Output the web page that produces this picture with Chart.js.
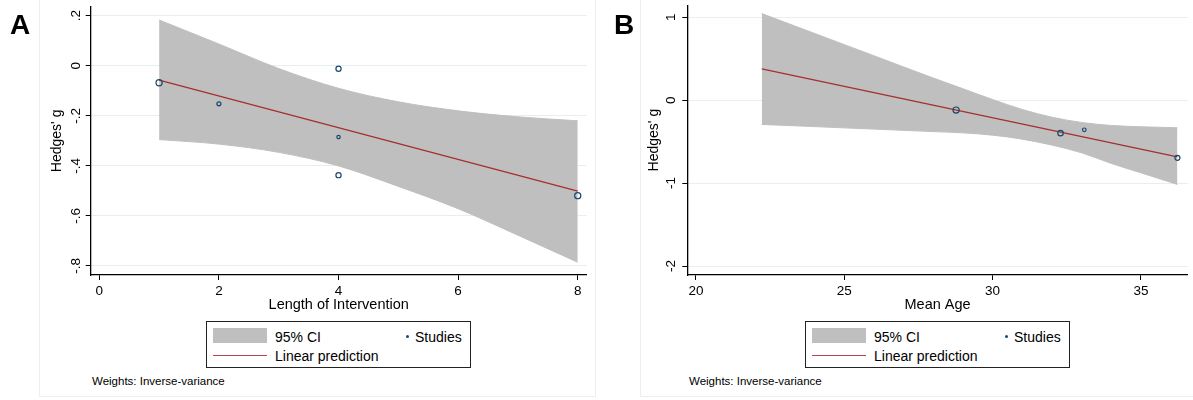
<!DOCTYPE html>
<html>
<head>
<meta charset="utf-8">
<script src="https://cdn.jsdelivr.net/npm/chart.js@4.4.1/dist/chart.umd.min.js"></script>
<style>
	body { margin: 0; background: #fff; font-family: "Liberation Sans", Arial, sans-serif; color: #000; }
	#wrap { position: relative; width: 1193px; height: 400px; overflow: hidden; background: #fff; }
	.panel { position: absolute; top: -2px; height: 399px; border: 1px solid #eceff0; box-sizing: border-box; }
	canvas { position: absolute; top: 0; }
	.tag { position: absolute; font-weight: bold; font-size: 28px; line-height: 28px; }
	.legend { position: absolute; top: 321px; width: 265px; height: 47px; border: 1.3px solid #222; box-sizing: border-box; }
	.legend span { position: absolute; font-size: 14px; line-height: 16px; white-space: nowrap; }
	.legend .swatch { position: absolute; left: 6px; top: 6px; width: 54px; height: 15px; background: #bfbfbf; }
	.legend .redline { position: absolute; left: 6px; top: 32.5px; width: 54px; height: 1.2px; background: #b04a4a; }
	.legend .dot { position: absolute; left: 198.5px; top: 12.5px; width: 3px; height: 3px; border-radius: 50%; background: #1a476f; }
	.note { position: absolute; top: 374px; font-size: 11.5px; line-height: 14px; white-space: nowrap; }
</style>
</head>
<body>
<div id="wrap">
	<div class="panel" style="left:39px; width:557px;"></div>
	<div class="panel" style="left:640px; width:600px;"></div>

	<canvas id="chartA" width="596" height="320" style="left:0px;"></canvas>
	<canvas id="chartB" width="596" height="320" style="left:597px;"></canvas>

	<div class="tag" style="left:10px; top:11px;">A</div>
	<div class="tag" style="left:614px; top:11px;">B</div>

	<div class="legend" style="left:206px;">
		<div class="swatch"></div>
		<span style="left:68px; top:6.5px;">95% CI</span>
		<div class="dot"></div>
		<span style="left:208px; top:6.5px;">Studies</span>
		<div class="redline"></div>
		<span style="left:68px; top:25.5px;">Linear prediction</span>
	</div>
	<div class="legend" style="left:805px;">
		<div class="swatch"></div>
		<span style="left:68px; top:6.5px;">95% CI</span>
		<div class="dot"></div>
		<span style="left:208px; top:6.5px;">Studies</span>
		<div class="redline"></div>
		<span style="left:68px; top:25.5px;">Linear prediction</span>
	</div>

	<div class="note" style="left:92px;">Weights: Inverse-variance</div>
	<div class="note" style="left:689px;">Weights: Inverse-variance</div>
</div>

<script>
	'use strict';

	// panel A - Hedges' g against length of intervention
	var lengthA = [1, 2, 4, 4, 4, 8];
	var hedgesA = [-0.068, -0.152, -0.012, -0.285, -0.437, -0.519];
	var weightsA = [9.6, 4.0, 6.8, 2.9, 6.8, 9.6];
	var fitXA = [1, 8];
	var fitYA = [-0.057, -0.501];
	var ciXA = [1, 2, 3, 4, 5, 6, 7, 8];
	var ciHiA = [0.183, 0.087, -0.011, -0.090, -0.144, -0.180, -0.204, -0.220];
	var ciLoA = [-0.295, -0.313, -0.346, -0.400, -0.482, -0.571, -0.677, -0.785];
	var xTicksA = [0, 2, 4, 6, 8];
	var yTicksA = [-0.8, -0.6, -0.4, -0.2, 0, 0.2];
	var yLabelsA = ['-.8', '-.6', '-.4', '-.2', '0', '.2'];

	// panel B - Hedges' g against mean age
	var ageB = [28.77, 32.29, 33.09, 36.23];
	var hedgesB = [-0.120, -0.398, -0.357, -0.695];
	var weightsB = [9.6, 7.3, 3.2, 6.3];
	var fitXB = [22.22, 36.23];
	var fitYB = [0.377, -0.683];
	var ciXB = [22.22, 24, 26, 28, 29, 30, 31, 32, 33, 34, 35, 36.23];
	var ciHiB = [1.044, 0.805, 0.536, 0.267, 0.138, 0.008, -0.112, -0.205, -0.269, -0.305, -0.321, -0.333];
	var ciLoB = [-0.293, -0.319, -0.349, -0.379, -0.394, -0.422, -0.470, -0.542, -0.635, -0.763, -0.876, -1.016];
	var xTicksB = [20, 25, 30, 35];
	var yTicksB = [-2, -1, 0, 1];
	var yLabelsB = ['-2', '-1', '0', '1'];

	var NAVY = '#1a476f', MAROON = '#a52f2f', GRAY = '#bfbfbf', GRID = '#e7eef0';

	Chart.defaults.font.family = '"Liberation Sans", Arial, sans-serif';
	Chart.defaults.color = '#000';

	function pts(xs, ys) {
		return xs.map(function(x, i){ return { x: x, y: ys[i] }; });
	}

	function makePanel(id, p) {
		return new Chart(document.getElementById(id), {
			type: 'line',
			data: {
				datasets: [{
					label: 'Studies',
					data: pts(p.x, p.y),
					showLine: false,
					pointRadius: p.w.map(Math.sqrt),
					pointBorderWidth: 1.2,
					pointBorderColor: NAVY,
					pointBackgroundColor: 'rgba(0,0,0,0)'
				}, {
					label: 'Linear prediction',
					data: pts(p.fitX, p.fitY),
					borderColor: MAROON,
					borderWidth: 1.3,
					pointRadius: 0,
					fill: false
				}, {
					label: '95% CI',
					data: pts(p.ciX, p.ciHi),
					borderColor: GRAY,
					backgroundColor: GRAY,
					borderWidth: 1,
					pointRadius: 0,
					cubicInterpolationMode: 'monotone',
					fill: '+1'
				}, {
					label: '95% CI (lower)',
					data: pts(p.ciX, p.ciLo),
					borderColor: GRAY,
					borderWidth: 1,
					pointRadius: 0,
					cubicInterpolationMode: 'monotone',
					fill: false
				}]
			},
			options: {
				responsive: false,
				animation: false,
				events: [],
				layout: { padding: { left: 40, top: p.top, right: p.right, bottom: 6.6 } },
				plugins: { legend: { display: false }, tooltip: { enabled: false } },
				scales: {
					x: {
						type: 'linear',
						min: p.xMin, max: p.xMax,
						afterBuildTicks: function(s){ s.ticks = p.xTicks.map(function(v){ return { value: v }; }); },
						afterFit: function(s){ s.height = 38.4; s.paddingLeft = 0; s.paddingRight = 0; },
						ticks: { padding: 3, autoSkip: false, maxRotation: 0, font: { size: 13.5 }, color: '#000' },
						grid: { drawOnChartArea: false, tickLength: 5, tickColor: '#000', tickWidth: 1 },
						border: { display: true, color: '#000', width: 1.3 },
						title: { display: true, text: p.xTitle, font: { size: 14.5 }, color: '#000', padding: { top: 0, bottom: 0 } }
					},
					y: {
						type: 'linear',
						min: p.yMin, max: p.yMax,
						afterBuildTicks: function(s){ s.ticks = p.yTicks.map(function(v){ return { value: v }; }); },
						afterFit: function(s){ s.width = p.yWidth; s.paddingTop = 0; s.paddingBottom = 0; },
						ticks: {
							callback: function(v, i){ return p.yLabels[i]; },
							minRotation: 90, maxRotation: 90, crossAlign: 'center',
							padding: p.yPad, autoSkip: false, font: { size: 13.5 }, color: '#000'
						},
						grid: { color: GRID, lineWidth: 1, tickLength: 5, tickColor: '#000', tickWidth: 1 },
						border: { display: true, color: '#000', width: 1.3 },
						title: { display: true, text: "Hedges' g", font: { size: 14 }, color: '#000', padding: { top: 8.6, bottom: 0 } }
					}
				}
			}
		});
	}

	makePanel('chartA', {
		x: lengthA, y: hedgesA, w: weightsA,
		fitX: fitXA, fitY: fitYA,
		ciX: ciXA, ciHi: ciHiA, ciLo: ciLoA,
		xTicks: xTicksA, yTicks: yTicksA, yLabels: yLabelsA,
		xMin: -0.144, xMax: 8.15, yMin: -0.836, yMax: 0.236,
		xTitle: 'Length of Intervention',
		top: 6.7, right: 9.3, yWidth: 50.7, yPad: 2
	});

	makePanel('chartB', {
		x: ageB, y: hedgesB, w: weightsB,
		fitX: fitXB, fitY: fitYB,
		ciX: ciXB, ciHi: ciHiB, ciLo: ciLoB,
		xTicks: xTicksB, yTicks: yTicksB, yLabels: yLabelsB,
		xMin: 19.71, xMax: 36.58, yMin: -2.108, yMax: 1.145,
		xTitle: 'Mean Age',
		top: 4, right: 3, yWidth: 50.3, yPad: 5
	});
</script>
</body>
</html>
